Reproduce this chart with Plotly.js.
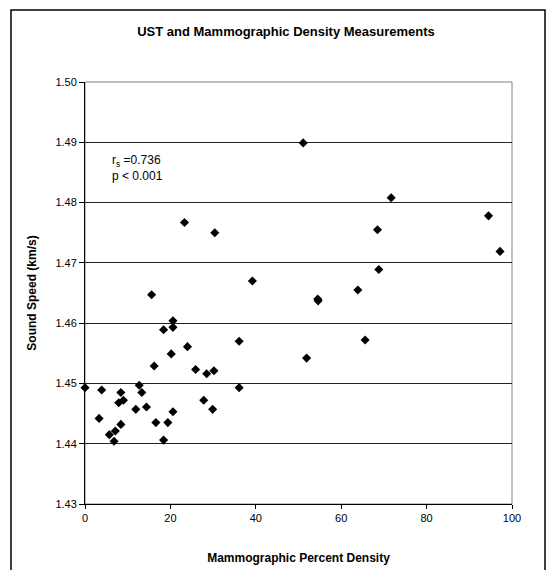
<!DOCTYPE html>
<html>
<head>
<meta charset="utf-8">
<script src="https://cdn.plot.ly/plotly-3.0.1.min.js"></script>
<style>html,body{margin:0;padding:0;background:#fff;}#chart{width:555px;height:570px;}</style>
</head>
<body>
<div id="chart"></div>
<script>
// Mammographic percent density (x) vs sound speed in km/s (y)
const density = [23.3, 30.4, 39.2, 15.6, 20.6, 18.4, 20.6, 36.1, 24.0, 20.2,
  16.2, 25.9, 28.5, 30.2, 0.0, 3.9, 12.7, 8.4, 13.3, 36.1,
  7.9, 9.0, 11.9, 14.4, 27.8, 29.9, 3.3, 8.4, 16.6, 19.4,
  20.6, 5.7, 7.1, 6.8, 18.4,
  51.1, 71.7, 94.5, 68.5, 97.2, 68.8, 63.9, 54.5, 54.6, 65.6, 51.9];
const soundSpeed = [1.4767, 1.4750, 1.4670, 1.4647, 1.4604, 1.4589, 1.4593, 1.4570, 1.4561, 1.4549,
  1.4529, 1.4523, 1.4516, 1.4521, 1.4493, 1.4489, 1.4497, 1.4485, 1.4485, 1.4493,
  1.4468, 1.4472, 1.4457, 1.4461, 1.4472, 1.4457, 1.4442, 1.4432, 1.4435, 1.4435,
  1.4453, 1.4415, 1.4421, 1.4404, 1.4406,
  1.4899, 1.4808, 1.4778, 1.4755, 1.4719, 1.4689, 1.4655, 1.4640, 1.4637, 1.4572, 1.4542];
const xTicks = [0, 20, 40, 60, 80, 100];
const yTicks = [1.43, 1.44, 1.45, 1.46, 1.47, 1.48, 1.49, 1.50];
const yTickText = ['1.43', '1.44', '1.45', '1.46', '1.47', '1.48', '1.49', '1.50'];
const chartTitle = 'UST and Mammographic Density Measurements';
const xTitle = 'Mammographic Percent Density';
const yTitle = 'Sound Speed (km/s)';
const statText = 'r<sub>s</sub> =0.736<br>p < 0.001';

const FONT = 'Liberation Sans, Arial, sans-serif';
const L = 85, R = 512, T = 82, B = 504, W = 555, H = 570;
const pw = R - L, ph = B - T;

const trace = {
  type: 'scatter', mode: 'markers', x: density, y: soundSpeed,
  marker: {symbol: 'diamond', size: 7, color: '#000'},
  hoverinfo: 'x+y', showlegend: false, cliponaxis: false
};

const layout = {
  width: W, height: H,
  margin: {l: L, r: W - R, t: T, b: H - B, pad: 0},
  paper_bgcolor: '#fff', plot_bgcolor: '#fff',
  font: {family: FONT, size: 11, color: '#000'},
  title: {text: '<b>' + chartTitle + '</b>', font: {family: FONT, size: 13, color: '#000'},
          x: 286 / W, xref: 'container', xanchor: 'center', y: 1 - 31 / H, yref: 'container', yanchor: 'middle'},
  xaxis: {
    range: [0, 100], tickvals: xTicks, ticktext: xTicks.map(String),
    ticks: 'outside', ticklen: 4, tickcolor: '#000', tickwidth: 1,
    showline: true, linecolor: '#000', linewidth: 1, mirror: false,
    showgrid: false, zeroline: false,
    tickfont: {family: FONT, size: 11, color: '#000'},
    title: {text: '<b>' + xTitle + '</b>', font: {family: FONT, size: 12, color: '#000'}, standoff: 30}
  },
  yaxis: {
    range: [1.43, 1.50], tickvals: yTicks, ticktext: yTickText,
    ticks: 'outside', ticklen: 5, tickcolor: '#000', tickwidth: 1,
    showline: true, linecolor: '#000', linewidth: 1, mirror: false,
    showgrid: true, gridcolor: '#222', gridwidth: 1, zeroline: false,
    tickfont: {family: FONT, size: 11, color: '#000'},
    title: {text: '<b>' + yTitle + '</b>', font: {family: FONT, size: 12, color: '#000'}, standoff: 16}
  },
  shapes: [
    {type: 'rect', xref: 'paper', yref: 'paper', x0: 0, x1: 1, y0: 0, y1: 1,
     line: {color: '#808080', width: 1}, fillcolor: 'rgba(0,0,0,0)', layer: 'below'},
    {type: 'rect', xref: 'paper', yref: 'paper', x0: (11 - L) / pw, x1: (545 - L) / pw,
     y0: (B - 590) / ph, y1: (B - 10) / ph,
     line: {color: '#000', width: 1.5}, fillcolor: 'rgba(0,0,0,0)'}
  ],
  annotations: [
    {text: statText, x: 5.9, y: 1.4885, xref: 'x', yref: 'y', xanchor: 'left', yanchor: 'top',
     align: 'left', showarrow: false, font: {family: FONT, size: 12, color: '#000'}}
  ]
};

Plotly.newPlot('chart', [trace], layout, {displayModeBar: false, staticPlot: true});
</script>
</body>
</html>
